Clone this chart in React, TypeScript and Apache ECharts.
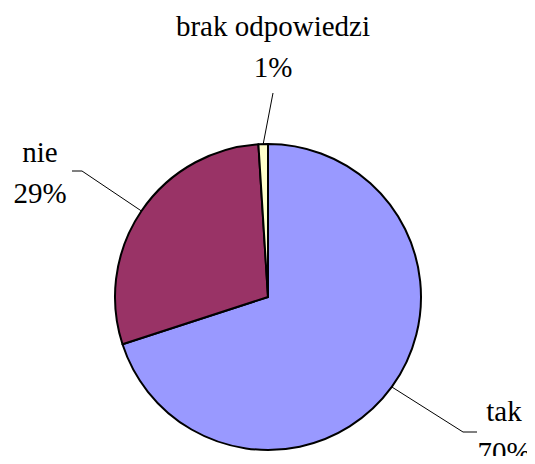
import React, { useEffect, useRef } from "react";
import * as echarts from "echarts";

const categories = ["tak", "nie", "brak odpowiedzi"];
const values = [70, 29, 1];
const colors = ["#9999FF", "#993366", "#FFFFCC"];

// label anchor (block center) and leader line elbow points per slice
const labelAnchors = [
  [504, 431],
  [40, 172],
  [273, 46],
];
const labelElbows = [
  [[463, 432], [477, 432]],
  [[82, 171], [72, 171]],
  [[273, 93]],
];

export default function App() {
  const ref = useRef<HTMLDivElement>(null);
  useEffect(() => {
    if (!ref.current) return;
    const chart = echarts.init(ref.current, null, { renderer: "svg" });
    chart.setOption({
      animation: false,
      backgroundColor: "#ffffff",
      graphic: categories.map((name, i) => ({
        type: "text",
        x: labelAnchors[i][0],
        y: labelAnchors[i][1],
        style: {
          text: name + "\n" + values[i] + "%",
          font: "29px 'Liberation Serif'",
          lineHeight: 41,
          fill: "#000000",
          align: "center",
          verticalAlign: "middle",
        },
      })),
      series: [
        {
          type: "pie",
          center: [268, 297],
          radius: [0, 153],
          startAngle: 90,
          clockwise: true,
          avoidLabelOverlap: false,
          itemStyle: { borderColor: "#000000", borderWidth: 2 },
          label: {
            show: true,
            position: "outside",
            formatter: " ",
            fontSize: 1,
            color: "#000000",
          },
          labelLine: {
            show: true,
            lineStyle: { color: "#000000", width: 1 },
          },
          labelLayout: (params: any) => {
            const i = params.dataIndex;
            const start = params.labelLinePoints
              ? params.labelLinePoints[0]
              : [0, 0];
            const last = labelElbows[i][labelElbows[i].length - 1];
            return {
              x: last[0],
              y: last[1],
              labelLinePoints: [start, ...labelElbows[i]],
            };
          },
          data: categories.map((name, i) => ({
            name,
            value: values[i],
            itemStyle: { color: colors[i] },
          })),
        },
      ],
    });
    return () => chart.dispose();
  }, []);
  return <div ref={ref} style={{ width: 535, height: 464, margin: -8 }} />;
}
